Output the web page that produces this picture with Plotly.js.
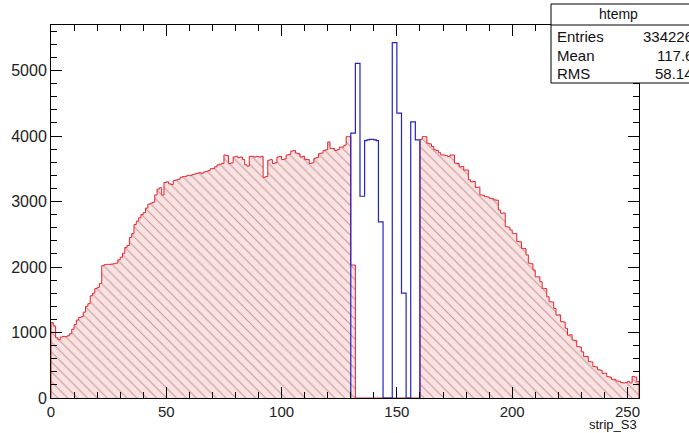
<!DOCTYPE html>
<html>
<head>
<meta charset="utf-8">
<script src="https://cdn.plot.ly/plotly-3.0.1.min.js"></script>
<style>html,body{margin:0;padding:0;background:#fff;}#plot{width:689px;height:433px;}</style>
</head>
<body>
<div id="plot"></div>
<script>
// ---- data ----
var binLow = 0;
var binWidth = 1;
var redCounts = [
1150,1100,920,890,930,940,935,950,980,1050,
1120,1190,1230,1240,1310,1400,1440,1560,1600,1670,
1690,1750,2020,2035,2040,2040,2045,2050,2060,2110,
2150,2210,2300,2330,2450,2510,2650,2700,2750,2800,
2830,2900,2960,2975,2990,3100,3190,3210,3100,3290,
3300,3270,3260,3320,3330,3340,3370,3380,3385,3400,
3395,3410,3420,3430,3440,3430,3450,3460,3470,3500,
3505,3530,3560,3570,3580,3710,3700,3580,3590,3680,
3690,3670,3680,3640,3560,3540,3690,3690,3680,3690,
3680,3690,3370,3380,3630,3640,3580,3590,3680,3690,
3640,3650,3710,3720,3770,3780,3740,3730,3680,3690,
3640,3640,3580,3590,3660,3670,3730,3740,3780,3790,
3910,3810,3810,3780,3790,3830,3830,3860,3990,3990,
2030,2030,0,0,0,0,0,0,0,0,
0,0,0,0,0,0,0,0,0,0,
0,0,0,0,0,0,0,0,0,0,
3950,3990,3990,3890,3880,3840,3790,3780,3745,3710,
3710,3700,3685,3710,3710,3585,3580,3530,3535,3480,
3480,3330,3300,3305,3215,3220,3100,3095,3075,3070,
3050,3045,3025,3020,2870,2820,2825,2615,2610,2565,
2515,2510,2390,2385,2285,2280,2185,2060,2050,1955,
1850,1850,1775,1675,1670,1545,1470,1465,1370,1265,
1270,1165,1160,1065,960,965,885,880,785,780,
705,630,635,555,550,480,475,430,425,375,
380,325,320,285,285,260,255,235,230,235,
250,230,330,320,250
];
var blueFirstBin = 130;
var blueCounts = [
4045,4045,5110,5110,3080,3080,3930,3940,3950,3950,
3940,3930,2690,2690,0,0,0,0,5425,5425,
4350,4350,1600,1600,0,0,4215,4215,3940,3940
];
var xTitle = "strip_S3";
var statsTitle = "htemp";
var statsNames = ["Entries", "Mean", "RMS"];
var statsValues = ["334226", "117.6", "58.14"];

// ---- build step outlines from bins ----
function stepXY(first, counts) {
  var xs = [binLow + first * binWidth], ys = [0];
  for (var i = 0; i < counts.length; i++) {
    xs.push(binLow + (first + i) * binWidth);
    ys.push(counts[i]);
  }
  var end = binLow + (first + counts.length) * binWidth;
  xs.push(end); ys.push(counts[counts.length - 1]);
  xs.push(end); ys.push(0);
  return {x: xs, y: ys};
}
var red = stepXY(0, redCounts);
var blue = stepXY(blueFirstBin, blueCounts);
var xMax = binLow + redCounts.length * binWidth;

var font = "Liberation Sans, Arial, Helvetica, sans-serif";

var traces = [
  {
    type: "scatter", mode: "lines", x: red.x, y: red.y,
    line: {shape: "hv", color: "#e8202a", width: 1},
    fill: "tozeroy", fillcolor: "#fae2e2",
    fillpattern: {shape: "\\", fgcolor: "#8a5050", size: 7, solidity: 0.15, fillmode: "overlay"},
    hoverinfo: "skip", showlegend: false
  },
  {
    type: "scatter", mode: "lines", x: blue.x, y: blue.y,
    line: {shape: "hv", color: "#2424c4", width: 1.2},
    hoverinfo: "skip", showlegend: false
  }
];

// pixel helpers for the stats box (plot area: l=51, r=50, t=25, b=35)
var W = 689, H = 433, L = 51, R = 50, T = 25, B = 35;
function px(p) { return (p - L) / (W - L - R); }
function py(q) { return (H - B - q) / (H - B - T); }

var boxL = 551, boxR = 700, boxT = 4, boxB = 83, sepY = 25;
var rowY = [36, 55, 73];
var annotations = [
  {xref: "paper", yref: "paper", x: px(618), y: py(14), text: statsTitle, showarrow: false,
   xanchor: "center", yanchor: "middle", font: {family: font, size: 14, color: "#111"}},
  {xref: "paper", yref: "paper", x: 1, y: py(424), text: xTitle, showarrow: false,
   xanchor: "right", yanchor: "middle", font: {family: font, size: 13, color: "#111"}}
];
for (var k = 0; k < statsNames.length; k++) {
  annotations.push({xref: "paper", yref: "paper", x: px(555), y: py(rowY[k]), text: statsNames[k],
    showarrow: false, xanchor: "left", yanchor: "middle", font: {family: font, size: 15, color: "#111"}});
  annotations.push({xref: "paper", yref: "paper", x: px(695), y: py(rowY[k]), text: statsValues[k],
    showarrow: false, xanchor: "right", yanchor: "middle", font: {family: font, size: 15, color: "#111"}});
}

var layout = {
  width: W, height: H,
  margin: {l: L, r: R, t: T, b: B, pad: 0},
  paper_bgcolor: "#ffffff", plot_bgcolor: "#ffffff",
  showlegend: false,
  xaxis: {
    range: [binLow, xMax], tick0: 0, dtick: 50, ticks: "inside", ticklen: 11, tickwidth: 1,
    tickcolor: "#000", showline: true, linecolor: "#000", linewidth: 1, mirror: "ticks",
    showgrid: false, zeroline: false,
    minor: {dtick: 10, ticks: "inside", ticklen: 6, tickcolor: "#000", showgrid: false},
    tickfont: {family: font, size: 15, color: "#222"}
  },
  yaxis: {
    range: [0, 5695], tick0: 0, dtick: 1000, ticks: "inside", ticklen: 11, tickwidth: 1,
    tickcolor: "#000", showline: true, linecolor: "#000", linewidth: 1, mirror: "ticks",
    showgrid: false, zeroline: false,
    minor: {dtick: 200, ticks: "inside", ticklen: 6, tickcolor: "#000", showgrid: false},
    tickfont: {family: font, size: 16, color: "#222"}
  },
  shapes: [
    {type: "rect", xref: "paper", yref: "paper", x0: px(boxL), x1: px(boxR), y0: py(boxB), y1: py(boxT),
     line: {color: "#000", width: 1}, fillcolor: "#ffffff", layer: "above"},
    {type: "line", xref: "paper", yref: "paper", x0: px(boxL), x1: px(boxR), y0: py(sepY), y1: py(sepY),
     line: {color: "#000", width: 1}, layer: "above"}
  ],
  annotations: annotations
};

Plotly.newPlot("plot", traces, layout, {staticPlot: true, displayModeBar: false});
</script>
</body>
</html>
